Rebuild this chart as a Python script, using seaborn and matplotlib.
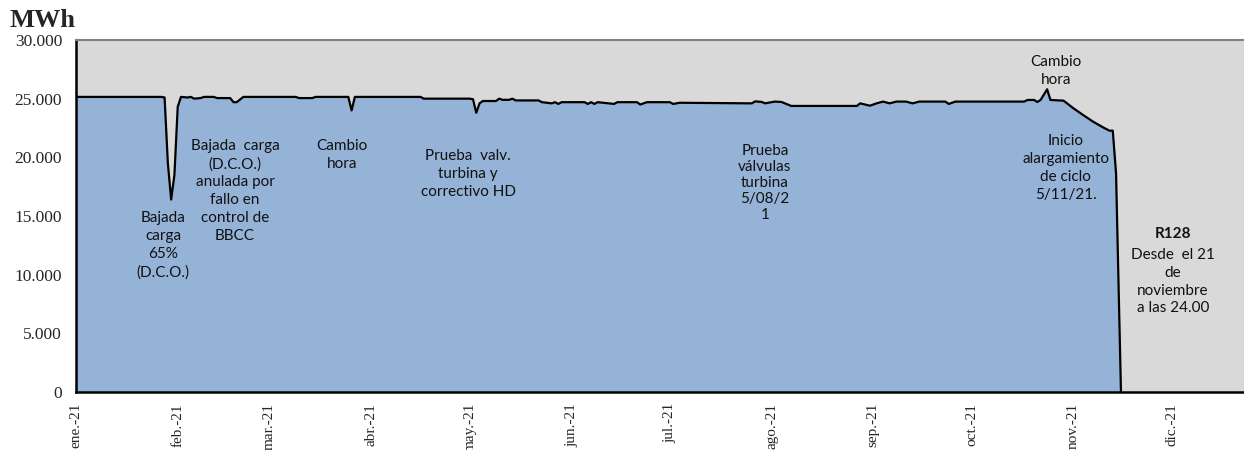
import matplotlib
matplotlib.use('Agg')
import matplotlib.pyplot as plt
import pandas as pd
import seaborn as sns
from matplotlib.ticker import FuncFormatter

sns.set_style('white')
plt.rcParams['font.family'] = ['Liberation Serif', 'DejaVu Serif']

# producción diaria (MWh), puntos de cambio
dates = ['2021-01-01', '2021-01-27', '2021-01-28', '2021-01-29', '2021-01-30', '2021-01-31',
         '2021-02-01', '2021-02-02', '2021-02-04', '2021-02-05', '2021-02-06', '2021-02-08',
         '2021-02-09', '2021-02-12', '2021-02-13', '2021-02-17', '2021-02-18', '2021-02-19',
         '2021-02-21', '2021-03-09', '2021-03-10', '2021-03-14', '2021-03-15', '2021-03-25',
         '2021-03-26', '2021-03-27', '2021-04-16', '2021-04-17', '2021-05-01', '2021-05-02',
         '2021-05-03', '2021-05-04', '2021-05-05', '2021-05-09', '2021-05-10', '2021-05-11',
         '2021-05-13', '2021-05-14', '2021-05-15', '2021-05-22', '2021-05-23', '2021-05-26',
         '2021-05-27', '2021-05-28', '2021-05-29', '2021-06-05', '2021-06-06', '2021-06-07',
         '2021-06-08', '2021-06-09', '2021-06-14', '2021-06-15', '2021-06-21', '2021-06-22',
         '2021-06-24', '2021-07-01', '2021-07-02', '2021-07-04', '2021-07-26', '2021-07-27',
         '2021-07-29', '2021-07-30', '2021-08-02', '2021-08-04', '2021-08-07', '2021-08-27',
         '2021-08-28', '2021-08-31', '2021-09-02', '2021-09-04', '2021-09-06', '2021-09-08',
         '2021-09-11', '2021-09-13', '2021-09-15', '2021-09-23', '2021-09-24', '2021-09-26',
         '2021-10-17', '2021-10-18', '2021-10-20', '2021-10-21', '2021-10-22', '2021-10-24',
         '2021-10-25', '2021-10-29', '2021-11-01', '2021-11-04', '2021-11-07', '2021-11-10',
         '2021-11-12', '2021-11-13', '2021-11-14', '2021-11-15 12:00']
mwh = [25150, 25150, 25100, 19500, 16400, 18500,
       24300, 25150, 25100, 25150, 25000, 25050,
       25150, 25150, 25050, 25050, 24700, 24700,
       25150, 25150, 25050, 25050, 25150, 25150,
       24000, 25150, 25150, 25000, 25000, 24950,
       23800, 24600, 24800, 24800, 25000, 24900,
       24900, 25000, 24850, 24850, 24700, 24600,
       24700, 24550, 24700, 24700, 24550, 24700,
       24550, 24700, 24550, 24700, 24700, 24500,
       24700, 24700, 24550, 24650, 24600, 24770,
       24720, 24600, 24750, 24720, 24380, 24380,
       24600, 24400, 24600, 24750, 24600, 24750,
       24750, 24600, 24750, 24750, 24550, 24750,
       24750, 24890, 24890, 24720, 24890, 25800,
       24890, 24830, 24180, 23600, 23040, 22560,
       22270, 22270, 18660, 0]

month_labels = ['ene.-21', 'feb.-21', 'mar.-21', 'abr.-21', 'may.-21', 'jun.-21',
                'jul.-21', 'ago.-21', 'sep.-21', 'oct.-21', 'nov.-21', 'dic.-21']

df = pd.DataFrame({'fecha': pd.to_datetime(dates, format='mixed'), 'mwh': mwh})

fig = plt.figure(figsize=(12.44, 4.5), dpi=100)
ax = fig.add_axes([76 / 1244, 58 / 450, 1168 / 1244, 352 / 450])
ax.set_facecolor('#D9D9D9')

ax.fill_between(df['fecha'], df['mwh'], 0, color='#95B3D7', lw=0)
sns.lineplot(data=df, x='fecha', y='mwh', ax=ax, color='black', lw=1.6)

ax.set_xlim(pd.Timestamp('2021-01-01'), pd.Timestamp('2021-12-23'))
ax.set_ylim(0, 30000)
ax.set_xlabel('')
ax.set_ylabel('')
ax.set_yticks(range(0, 30001, 5000))
ax.yaxis.set_major_formatter(FuncFormatter(lambda v, p: f'{int(v):,}'.replace(',', '.')))
ax.set_xticks(pd.date_range('2021-01-01', periods=12, freq='MS'))
ax.set_xticklabels(month_labels, rotation=90)
ax.tick_params(axis='y', direction='out', length=5, width=1.5, color='black', labelsize=12.5, pad=5)
ax.tick_params(axis='x', direction='out', length=4, width=1.5, color='black', labelsize=11, pad=4)

for side in ['left', 'bottom']:
    ax.spines[side].set_color('black')
    ax.spines[side].set_linewidth(1.8)
ax.spines['top'].set_color('#808080')
ax.spines['top'].set_linewidth(1.5)
ax.spines['right'].set_visible(False)

fig.text(10 / 1244, 423 / 450, 'MWh', fontsize=19, fontweight='bold', va='baseline', ha='left')

# notas
note_font = dict(family=['Lato', 'DejaVu Sans'], fontsize=11, ha='center', va='center',
                 color='#111111', linespacing=1.35)
ax.text(pd.Timestamp('2021-01-27 12:00'), 12500, 'Bajada\ncarga\n65%\n(D.C.O.)', **note_font)
ax.text(pd.Timestamp('2021-02-18 12:00'), 17130,
        'Bajada  carga\n(D.C.O.)\nanulada por\nfallo en\ncontrol de\nBBCC', **note_font)
ax.text(pd.Timestamp('2021-03-23'), 20200, 'Cambio\nhora', **note_font)
ax.text(pd.Timestamp('2021-04-30 12:00'), 18580, 'Prueba  valv.\nturbina y\ncorrectivo HD', **note_font)
ax.text(pd.Timestamp('2021-07-30'), 17810, 'Prueba\nválvulas\nturbina\n5/08/2\n1',
        **{**note_font, 'linespacing': 1.2})
ax.text(pd.Timestamp('2021-10-26 16:00'), 27360, 'Cambio\nhora', **note_font)
ax.text(pd.Timestamp('2021-10-29 16:00'), 19090, 'Inicio\nalargamiento\nde ciclo\n5/11/21.', **note_font)
ax.text(pd.Timestamp('2021-12-01 08:00'), 13500, 'R128', fontweight='bold', **note_font)
ax.text(pd.Timestamp('2021-12-01 08:00'), 9400, 'Desde  el 21\nde\nnoviembre\na las 24.00', **note_font)

fig.savefig('out.png', dpi=100)
